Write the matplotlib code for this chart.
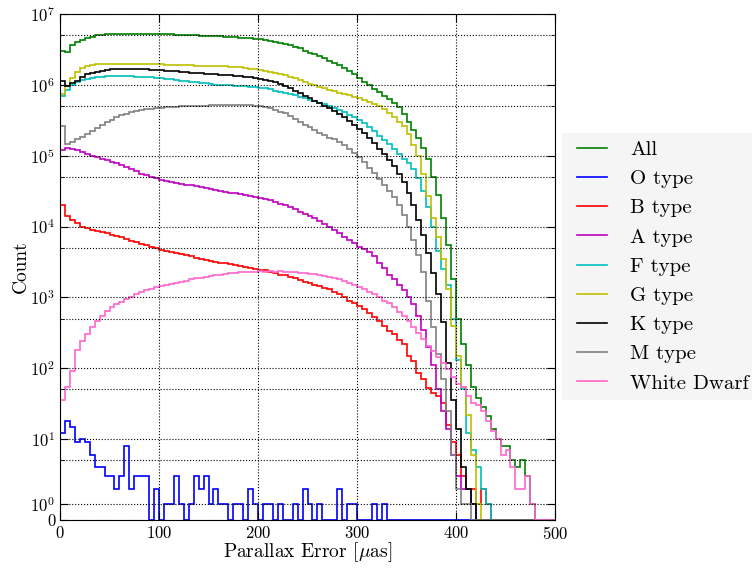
import numpy as np
import matplotlib.pyplot as plt
from matplotlib.patches import Rectangle
from matplotlib.ticker import FixedLocator, FixedFormatter

# histogram bins: 5 muas wide, 0 - 500
bin_edges = np.linspace(0, 500, 101)

all_counts = [
    3.0e6, 2.9e6, 3.6e6, 4.0e6, 4.3e6, 4.6e6, 4.8e6, 5.0e6, 5.1e6, 5.2e6,
    5.25e6, 5.3e6, 5.3e6, 5.3e6, 5.3e6, 5.3e6, 5.28e6, 5.27e6, 5.25e6, 5.22e6,
    5.2e6, 5.17e6, 5.15e6, 5.12e6, 5.1e6, 5.06e6, 5.03e6, 5.0e6, 4.97e6, 4.94e6,
    4.9e6, 4.87e6, 4.83e6, 4.8e6, 4.75e6, 4.7e6, 4.65e6, 4.6e6, 4.55e6, 4.5e6,
    4.4e6, 4.3e6, 4.2e6, 4.05e6, 3.9e6, 3.8e6, 3.6e6, 3.45e6, 3.3e6, 3.05e6,
    2.85e6, 2.7e6, 2.55e6, 2.4e6, 2.2e6, 2.05e6, 1.9e6, 1.75e6, 1.55e6, 1.4e6,
    1.25e6, 1.1e6, 1.0e6, 8.8e5, 7.8e5, 7.0e5, 6.4e5, 5.6e5, 4.8e5, 3.9e5,
    3.0e5, 2.3e5, 1.8e5, 1.3e5, 9e4, 5e4, 2.8e4, 1.3e4, 5.5e3, 1.8e3,
    500, 220, 110, 55, 38, 28, 21, 14, 10, 8,
    8, 5, 4, 5, 3, 1, 0, 0, 0, 0]

o_counts = [
    12, 18, 15, 9, 10, 9, 6, 4, 4, 3,
    3, 2, 3, 8, 2, 3, 3, 3, 0, 2,
    0, 1, 1, 3, 1, 0, 1, 3, 2, 3,
    1, 2, 1, 1, 0, 1, 1, 0, 2, 1,
    0, 1, 1, 0, 1, 0, 0, 1, 0, 2,
    1, 0, 1, 0, 0, 0, 2, 0, 1, 1,
    0, 0, 0, 1, 0, 1, 0, 0, 0, 0,
    0, 0, 0, 0, 0, 0, 0, 0, 0, 0,
    0, 0, 0, 0, 0, 0, 0, 0, 0, 0,
    0, 0, 0, 0, 0, 0, 0, 0, 0, 0]

b_counts = [
    2.0e4, 1.4e4, 1.25e4, 1.12e4, 1.0e4, 9.4e3, 9.0e3, 8.6e3, 8.3e3, 8.0e3,
    7.6e3, 7.4e3, 7.1e3, 6.7e3, 6.3e3, 6.0e3, 5.7e3, 5.4e3, 5.1e3, 4.9e3,
    4.7e3, 4.5e3, 4.35e3, 4.2e3, 4.05e3, 3.9e3, 3.8e3, 3.65e3, 3.5e3, 3.4e3,
    3.3e3, 3.2e3, 3.1e3, 3.05e3, 2.95e3, 2.85e3, 2.8e3, 2.7e3, 2.6e3, 2.55e3,
    2.45e3, 2.4e3, 2.3e3, 2.2e3, 2.1e3, 2.05e3, 1.95e3, 1.85e3, 1.75e3, 1.65e3,
    1.6e3, 1.5e3, 1.45e3, 1.35e3, 1.3e3, 1.2e3, 1.1e3, 1.0e3, 900, 840,
    760, 680, 600, 530, 470, 390, 340, 300, 250, 220,
    150, 125, 85, 70, 52, 45, 40, 32, 16, 9,
    6, 3, 2, 2, 1, 2, 1, 0, 0, 0,
    0, 0, 0, 0, 0, 0, 0, 0, 0, 0]

a_counts = [
    1.2e5, 1.3e5, 1.25e5, 1.2e5, 1.13e5, 1.07e5, 1.0e5, 9.5e4, 9.0e4, 8.6e4,
    8.2e4, 7.8e4, 7.5e4, 7.0e4, 6.5e4, 6.0e4, 5.6e4, 5.3e4, 5.0e4, 4.8e4,
    4.6e4, 4.4e4, 4.25e4, 4.1e4, 4.0e4, 3.9e4, 3.8e4, 3.7e4, 3.6e4, 3.5e4,
    3.4e4, 3.3e4, 3.2e4, 3.1e4, 3.0e4, 2.95e4, 2.85e4, 2.8e4, 2.7e4, 2.65e4,
    2.55e4, 2.45e4, 2.35e4, 2.25e4, 2.1e4, 2.0e4, 1.9e4, 1.75e4, 1.6e4, 1.5e4,
    1.4e4, 1.3e4, 1.2e4, 1.1e4, 1.0e4, 9.0e3, 8.2e3, 7.2e3, 6.4e3, 5.8e3,
    5.2e3, 4.8e3, 4.4e3, 3.8e3, 3.1e3, 2.6e3, 2.1e3, 1.8e3, 1.5e3, 1.25e3,
    1.0e3, 800, 550, 350, 200, 110, 50, 25, 14, 6,
    3, 2, 2, 1, 0, 0, 0, 0, 0, 0,
    0, 0, 0, 0, 0, 0, 0, 0, 0, 0]

f_counts = [
    7.0e5, 8.5e5, 1.0e6, 1.1e6, 1.17e6, 1.22e6, 1.26e6, 1.29e6, 1.31e6, 1.33e6,
    1.34e6, 1.34e6, 1.34e6, 1.33e6, 1.32e6, 1.31e6, 1.30e6, 1.28e6, 1.27e6, 1.25e6,
    1.23e6, 1.21e6, 1.19e6, 1.17e6, 1.15e6, 1.13e6, 1.11e6, 1.09e6, 1.07e6, 1.05e6,
    1.03e6, 1.01e6, 1.0e6, 9.9e5, 9.8e5, 9.7e5, 9.6e5, 9.5e5, 9.4e5, 9.3e5,
    9.1e5, 8.9e5, 8.6e5, 8.3e5, 8.0e5, 7.7e5, 7.4e5, 7.1e5, 6.8e5, 6.5e5,
    6.2e5, 5.9e5, 5.6e5, 5.3e5, 5.0e5, 4.7e5, 4.4e5, 4.1e5, 3.8e5, 3.5e5,
    3.2e5, 2.9e5, 2.5e5, 2.2e5, 1.9e5, 1.65e5, 1.45e5, 1.25e5, 1.05e5, 9e4,
    7.8e4, 6.5e4, 4.8e4, 3.2e4, 1.9e4, 1.0e4, 4.5e3, 2.5e3, 1.5e3, 500,
    130, 50, 12, 7, 4, 2, 1, 0, 0, 0,
    0, 0, 0, 0, 0, 0, 0, 0, 0, 0]

g_counts = [
    7.5e5, 9.5e5, 1.25e6, 1.5e6, 1.72e6, 1.84e6, 1.92e6, 1.96e6, 2.0e6, 2.0e6,
    2.0e6, 2.0e6, 2.0e6, 2.0e6, 1.99e6, 1.98e6, 1.98e6, 1.97e6, 1.96e6, 1.95e6,
    1.94e6, 1.93e6, 1.92e6, 1.91e6, 1.9e6, 1.89e6, 1.88e6, 1.87e6, 1.86e6, 1.86e6,
    1.85e6, 1.84e6, 1.83e6, 1.82e6, 1.80e6, 1.78e6, 1.76e6, 1.73e6, 1.70e6, 1.67e6,
    1.63e6, 1.59e6, 1.54e6, 1.49e6, 1.43e6, 1.37e6, 1.30e6, 1.23e6, 1.16e6, 1.10e6,
    1.04e6, 9.9e5, 9.4e5, 8.9e5, 8.5e5, 8.1e5, 7.7e5, 7.4e5, 7.1e5, 6.8e5,
    6.5e5, 6.2e5, 5.8e5, 5.4e5, 5.0e5, 4.5e5, 4.0e5, 3.5e5, 3.0e5, 2.6e5,
    2.0e5, 1.4e5, 1.0e5, 5.5e4, 2.7e4, 1.3e4, 7e3, 3.5e3, 1.3e3, 400,
    150, 55, 22, 6, 1, 0, 0, 0, 0, 0,
    0, 0, 0, 0, 0, 0, 0, 0, 0, 0]

k_counts = [
    1.15e6, 9.5e5, 1.05e6, 1.15e6, 1.3e6, 1.4e6, 1.47e6, 1.53e6, 1.58e6, 1.62e6,
    1.65e6, 1.67e6, 1.68e6, 1.68e6, 1.68e6, 1.67e6, 1.66e6, 1.65e6, 1.64e6, 1.62e6,
    1.61e6, 1.59e6, 1.57e6, 1.55e6, 1.53e6, 1.51e6, 1.49e6, 1.47e6, 1.45e6, 1.43e6,
    1.42e6, 1.40e6, 1.39e6, 1.37e6, 1.36e6, 1.34e6, 1.32e6, 1.30e6, 1.28e6, 1.25e6,
    1.22e6, 1.18e6, 1.13e6, 1.08e6, 1.02e6, 9.6e5, 9.0e5, 8.3e5, 7.6e5, 7.0e5,
    6.5e5, 6.0e5, 5.6e5, 5.1e5, 4.7e5, 4.3e5, 3.9e5, 3.5e5, 3.1e5, 2.7e5,
    2.4e5, 2.1e5, 1.8e5, 1.5e5, 1.25e5, 1.05e5, 8.7e4, 7.2e4, 5.5e4, 4.2e4,
    3.0e4, 2.0e4, 1.25e4, 7.5e3, 4.2e3, 2.2e3, 1.1e3, 450, 120, 35,
    14, 4, 2, 1, 0, 0, 0, 0, 0, 0,
    0, 0, 0, 0, 0, 0, 0, 0, 0, 0]

m_counts = [
    2.6e5, 1.45e5, 1.55e5, 1.7e5, 1.85e5, 2.0e5, 2.2e5, 2.45e5, 2.7e5, 2.95e5,
    3.2e5, 3.5e5, 3.7e5, 3.9e5, 4.1e5, 4.25e5, 4.4e5, 4.5e5, 4.6e5, 4.7e5,
    4.75e5, 4.8e5, 4.85e5, 4.9e5, 4.95e5, 5.0e5, 5.0e5, 5.05e5, 5.1e5, 5.1e5,
    5.15e5, 5.2e5, 5.2e5, 5.2e5, 5.2e5, 5.2e5, 5.2e5, 5.15e5, 5.15e5, 5.1e5,
    5.0e5, 4.85e5, 4.65e5, 4.45e5, 4.2e5, 3.95e5, 3.6e5, 3.25e5, 2.95e5, 2.7e5,
    2.5e5, 2.3e5, 2.1e5, 1.95e5, 1.8e5, 1.7e5, 1.55e5, 1.4e5, 1.25e5, 1.1e5,
    9.5e4, 8.2e4, 6.8e4, 5.7e4, 4.7e4, 3.8e4, 3.2e4, 2.6e4, 2.0e4, 1.45e4,
    1.0e4, 6.5e3, 4.0e3, 2.3e3, 900, 380, 160, 70, 25, 6,
    2, 1, 1, 0, 0, 0, 0, 0, 0, 0,
    0, 0, 0, 0, 0, 0, 0, 0, 0, 0]

wd_counts = [
    35, 55, 90, 180, 240, 300, 380, 470, 550, 650,
    720, 800, 870, 950, 1020, 1100, 1180, 1250, 1320, 1380,
    1430, 1480, 1550, 1600, 1670, 1720, 1800, 1850, 1900, 1950,
    2000, 2050, 2100, 2150, 2200, 2220, 2250, 2280, 2300, 2300,
    2320, 2300, 2330, 2300, 2320, 2280, 2300, 2250, 2220, 2200,
    2170, 2120, 2080, 2000, 1950, 1880, 1800, 1680, 1580, 1480,
    1400, 1300, 1200, 1100, 1000, 900, 820, 720, 620, 540,
    460, 380, 310, 260, 205, 175, 145, 120, 98, 75,
    60, 55, 40, 32, 30, 25, 18, 13, 10, 6,
    7, 4, 2, 2, 3, 1, 0, 0, 0, 0]

series = [
    (all_counts, 'All', 'g'),
    (o_counts, 'O type', 'b'),
    (b_counts, 'B type', 'r'),
    (a_counts, 'A type', 'm'),
    (f_counts, 'F type', 'c'),
    (g_counts, 'G type', 'y'),
    (k_counts, 'K type', 'k'),
    (m_counts, 'M type', 'gray'),
    (wd_counts, 'White Dwarf', '#ff66cc'),
]

plt.rcParams['font.family'] = 'serif'
plt.rcParams['font.serif'] = ['cmr10']
plt.rcParams['mathtext.fontset'] = 'cm'
plt.rcParams['axes.formatter.use_mathtext'] = True
plt.rcParams['xtick.direction'] = 'in'
plt.rcParams['ytick.direction'] = 'in'
plt.rcParams['xtick.top'] = True
plt.rcParams['ytick.right'] = True

W, H = 752, 568
fig = plt.figure(figsize=(W / 100, H / 100), dpi=100)
ax = fig.add_axes([60 / W, 1 - 520 / H, 495 / W, 506 / H])

for counts, label, color in series:
    ax.stairs(counts, bin_edges, color=color, lw=1.2, label=label, baseline=0)

ax.set_yscale('symlog', linthresh=2, linscale=0.4)
ax.set_xlim(0, 500)
ax.set_ylim(0, 1e7)

yt = [0] + [10**k for k in range(8)]
ax.yaxis.set_major_locator(FixedLocator(yt))
ax.yaxis.set_major_formatter(FixedFormatter(['0'] + ['$10^{%d}$' % k for k in range(8)]))
ax.yaxis.set_minor_locator(FixedLocator([5 * 10**k for k in range(7)]))
ax.set_xticks([0, 100, 200, 300, 400, 500])

ax.tick_params(which='major', length=6, labelsize=12)
ax.tick_params(which='minor', length=3)
ax.grid(True, which='both', linestyle=':', color='k', lw=0.8)

ax.set_xlabel(r'Parallax Error [$\mu$as]', fontsize=14, labelpad=-1)
ax.set_ylabel('Count', fontsize=14, labelpad=0)

# light grey legend panel running off the right edge
fig.patches.append(Rectangle((562 / W, 1 - 400 / H), 200 / W, 267 / H,
                             transform=fig.transFigure, facecolor='0.96',
                             edgecolor='none', zorder=-1))
leg = ax.legend(loc='center left', bbox_to_anchor=(577 / W, 1 - 266.5 / H),
                bbox_transform=fig.transFigure, fontsize=15, frameon=False,
                handlelength=1.44, handletextpad=1.1, labelspacing=0.51,
                borderpad=0, borderaxespad=0)

fig.savefig('out.png', dpi=100)
